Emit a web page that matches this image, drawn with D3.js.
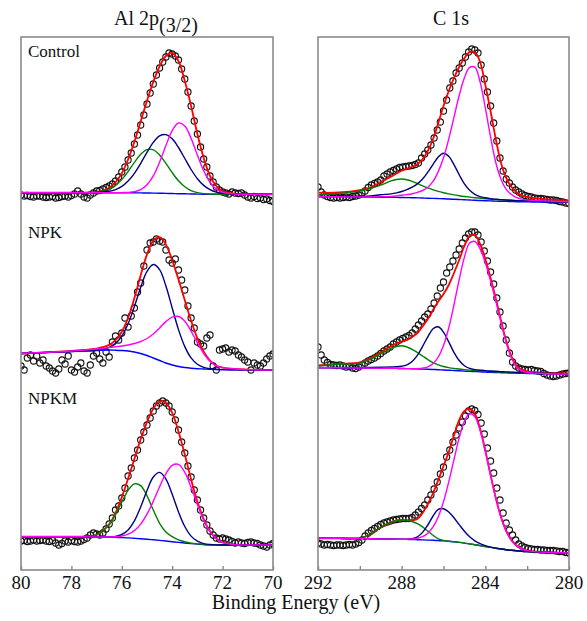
<!DOCTYPE html>
<html><head><meta charset="utf-8">
<script src="https://cdn.jsdelivr.net/npm/d3@7"></script>
<style>
body{margin:0;background:#fff;}
svg{display:block;}
</style>
</head><body>
<svg id="chart" width="587" height="621"></svg>
<script>
// ---------- DATA ----------
const sampleNames = ["Control", "NPK", "NPKM"];
const alTicks = [80, 78, 76, 74, 72, 70];
const alTickLabels = [80, 78, 76, 74, 72, 70];
const cTicks = [292, 290, 288, 286, 284, 282, 280];
const cTickLabels = [292, 288, 284, 280];

// energy grid of the fitted curves (eV)
const alEnergy = [80, 79, 78, 77.5, 77, 76.5, 76.25, 76, 75.75, 75.5, 75.25, 75, 74.75, 74.5, 74.25, 74, 73.75, 73.5, 73.25, 73, 72.75, 72.5, 72.25, 72, 71.5, 71, 70];
const cEnergy = [292, 291, 290, 289.5, 289, 288.5, 288.25, 288, 287.75, 287.5, 287.25, 287, 286.75, 286.5, 286.25, 286, 285.75, 285.5, 285.25, 285, 284.75, 284.5, 284.25, 284, 283.75, 283.5, 283.25, 283, 282.75, 282.5, 282.25, 282, 281.5, 281, 280];

// ----- Al 2p, Control -----
const alControlBase = [10.3,10.3,10.3,10.3,10.3,10.3,10.3,10.3,10.3,10.2,10.1,10.0,9.9,9.8,9.6,9.5,9.3,9.2,9.0,8.9,8.8,8.7,8.7,8.7,8.7,8.7,8.7];
const alControlGreen = [10.3,10.3,10.3,10.4,10.9,13.8,17.5,23.4,31.5,40.6,48.7,53.4,53.2,48.1,39.6,30.3,22.2,16.2,12.4,10.4,9.35,8.9,8.7,8.7,8.7,8.7,8.7];
const alControlNavy = [10.3,10.3,10.3,10.3,10.5,11.7,13.4,16.6,22.0,29.7,39.7,50.7,60.6,67.2,68.4,64.2,55.5,44.5,33.5,24.3,17.6,13.3,10.8,9.6,8.8,8.7,8.7];
const alControlMagenta = [10.3,10.3,10.3,10.3,10.3,10.3,10.3,10.4,10.6,11.3,13.4,18.2,27.1,40.9,57.4,72.4,80.0,77.0,64.6,47.9,32.2,20.6,13.9,10.6,8.9,8.7,8.7];
const alControlFit = [10.3,10.3,10.3,10.4,11.1,15.2,20.6,29.8,43.5,61.2,81.6,102.3,121.1,136.6,147,150,142,122,97,69,45,27,17,12,9.2,8.8,8.7];
const alControlData = [8,7,7.5,6.5,6,7,7,6,5.5,6,6.5,5,5.5,6.5,7,6,7.5,9,12,9,6,5,8,10,12,12.5,14,15.5,17,19,22,26,31,36,43,50,59,68,78,88,99,110,119,128,135,141,146,150,149,147,143,134,124,111,97,82,69,56,44,36,27,21,16,13,11,10,9,11,10,9.5,10,8,6,5,6.5,4.5,5,3.5,4,2.5,1.5];

// ----- Al 2p, NPK -----
const alNpkBase = [26.5,27.5,28.5,29,29.5,30,29.8,29.5,29,28,26.5,24.5,22,19.5,17,15,13.5,12.5,11.8,11.3,11,10.7,10.5,10.4,10.2,10.1,10];
const alNpkNavy = [26.5,27.5,28.5,29,29.8,32.6,36.4,43.8,56.2,73.4,92.7,108.6,115.5,110.3,94.0,72.0,50.4,33.4,22.1,15.8,12.7,11.2,10.65,10.4,10.2,10.1,10];
const alNpkMagenta = [26.5,27.7,29.0,30,31,32.5,33.3,34.0,35.0,36.5,38.5,41.5,46.0,52.1,58.4,62.8,63.5,58.8,48.9,37.1,26.5,18.8,14.1,12.4,11.0,10.4,10];
const alNpkFit = [26.5,27.7,29,30,31.3,35.1,39.9,48.3,62.2,81.9,104.7,125.6,139.5,142.9,135.4,119.8,100.4,79.7,59.2,41.6,28.2,19.3,14.25,12.4,11,10.4,10];
const alNpkData = [14,10,22,25,19,24,17,20,14,12,9,7,11,20,16,24,10,8,13,17,9,7,15,24,27,21,17,28,23,38,44,40,47,62,53,64,72,88,97,114,130,137,138,141,139,138,130,120,117,121,110,100,90,74,62,52,38,36,34,42,45,14,10,30,31,32,28,30,29,25,23,20,18,10,17,15,14,17,21,24,26];

// ----- Al 2p, NPKM -----
const alNpkmBase = [19.3,19.3,19.3,19.2,19,18.8,18.6,18.4,18.1,17.7,17.3,16.8,16.2,15.6,15,14.3,13.6,13,12.4,11.9,11.5,11.2,11.1,11,11,11,11];
const alNpkmGreen = [19.3,19.3,19.3,19.4,21.3,31.3,41.4,54.0,65.7,72.1,70.4,60.2,46.0,32.7,24.0,19.3,16.1,14.2,12.9,12.1,11.5,11.2,11.1,11,11,11,11];
const alNpkmNavy = [19.3,19.3,19.3,19.2,19,19.1,19.6,21.5,26.1,35.1,49.1,65.5,79.0,83.6,76.9,61.7,44.1,29.5,19.9,14.8,12.4,11.45,11.1,11,11,11,11];
const alNpkmMagenta = [19.3,19.3,19.3,19.2,19,19.0,19.2,20.0,21.8,25.4,31.9,41.8,54.7,69.3,82.4,90.7,91.6,83.7,68.7,51.4,35.9,24.4,17.4,13.7,11.3,11,11];
const alNpkmFit = [19.3,19.3,19.3,19.4,21.3,31.8,43,58.7,77.4,97.2,116.8,133.9,147.3,154.4,153.3,143.1,124.6,101.4,76.7,54.5,36.8,24.65,17.4,13.7,11.3,11,11];
const alNpkmData = [15,15.5,14.5,15,16,15,15.5,16,15,14.5,15.5,13,11,12.5,15,14,15.5,14.5,14,15,16.5,18,21,23,22,21,23,27,32,38,46,50,58,68,80,88,98,106,116,124,131,138,145,150,153,155,153,150,144,136,126,114,103,90,79,66,56,46,38,31,25,21,18,17,18,17,16,14.5,13,14,13,12.5,13.5,14,13,12.5,11,10,9,11,12.5];

// ----- C 1s, Control -----
const cControlBase = [6.3,6.2,6.0,5.9,5.8,5.65,5.6,5.5,5.4,5.3,5.15,5.0,4.8,4.6,4.4,4.2,3.95,3.7,3.45,3.2,2.95,2.7,2.5,2.3,2.1,1.9,1.75,1.6,1.45,1.3,1.2,1.1,1.0,0.9,0.7];
const cControlGreen = [8.3,9.5,12.1,14.5,18.0,22.05,23.5,24.0,23.3,21.7,19.55,17.2,15.1,13.2,11.6,10.3,9.15,8.1,7.25,6.5,5.85,5.3,4.8,4.3,3.9,3.5,3.25,2.9,2.65,2.4,2.25,2.1,1.85,1.6,1.25];
const cControlNavy = [6.6,6.7,6.8,7.1,8.3,9.15,10.1,11.5,13.4,15.8,19.15,24.0,30.8,38.6,45.9,49.7,46.75,38.4,28.25,19.1,12.65,8.7,6.4,5.2,4.3,3.8,3.35,3.0,2.7,2.4,2.2,2.0,1.75,1.5,1.1];
const cControlMagenta = [6.3,6.2,6.1,6.1,6.3,6.65,7.1,7.7,8.4,9.3,10.65,12.5,15.8,21.6,31.4,45.2,63.95,85.7,107.45,125.2,135.55,135.8,121.0,95.1,66.0,40.5,23.75,13.6,8.5,5.3,3.9,3.1,2.4,1.9,1.2];
const cControlFit = [10.3,10.5,12.9,15.5,21,26.5,29.5,32.2,34.3,36.2,39,43.7,52,64,80,97,112,125,136,145,151,151,141,118,92,64,40,25,16,10.5,7.5,6,4.5,3.5,2.2];
const cControlData = [16,11,8,6.5,5.5,5,5.5,5,5.5,6,5.5,6.5,7,8,10,12,15.5,18,19.5,21,23,27,29,31,32.5,34,35.5,36,36.5,37,37.5,38.5,40,45,49,53,58,65,73,81,92,103,115,122,130,135,140,146,151,154,153,150,138,124,111,97,80,62,45,32,24,20,16,13,11,9,7.5,6.5,6,5,4.5,4.5,4,3.5,3,3,2.5,1.5,1,0,-0.5];

// ----- C 1s, NPK -----
const cNpkBase = [12.3,12.2,12.0,11.9,11.8,11.7,11.6,11.5,11.4,11.3,11.1,10.9,10.7,10.5,10.3,10.0,9.8,9.5,9.2,8.9,8.6,8.4,8.2,7.9,7.7,7.5,7.3,7.1,7.0,6.8,6.7,6.5,6.4,6.2,6.0];
const cNpkGreen = [14.3,15.7,16.8,20.6,26.4,31.7,33.5,34.2,33.0,30.7,27.5,24.0,20.5,17.4,15.2,13.5,12.4,11.6,11.0,10.4,9.9,9.5,9.2,8.8,8.5,8.2,7.9,7.65,7.5,7.25,7.1,6.9,6.75,6.5,6.25];
const cNpkNavy = [12.5,12.5,12.5,12.6,12.8,13.1,13.2,13.8,15.2,18.5,24.6,33.7,43.2,51.2,53.2,47.9,38.1,27.7,19.5,14.3,11.6,10.4,9.9,9.4,9.0,8.7,8.4,8.1,7.9,7.6,7.45,7.2,7.0,6.7,6.4];
const cNpkMagenta = [12.3,12.2,12.0,11.9,11.8,11.7,11.6,11.5,11.4,11.3,11.4,11.9,13.2,16.5,23.0,34.5,52.0,75.0,100.4,122.9,136.9,138.5,131.2,117.2,98.9,78.9,57.3,37.1,22.0,12.8,9.2,7.5,6.7,6.2,6.0];
const cNpkFit = [14.5,16,17.6,21.6,27.7,34,36.5,38.5,40,43,47,53.5,61,70,78.5,86,95,107,120,134,144,145,136,121,102,81.5,59.5,39,23.5,14,10.5,8.6,7.6,7,6.7];
const cNpkData = [33,25,20,17.5,15.5,15,14.5,15,14,13,13.5,12,11.5,13,15,17,19,20.5,22,24,26.5,29,31,33,36,38,40,41.5,43,44.5,47,51,55,59,63,66,71,77,84,92,98,107,113,119,125,131,137,142,146,148,148,145,138,129,119,108,96,82,68,54,40,27,18,14,12,11,10.5,10,10.5,9.5,9,8.5,6.5,5,4,3.5,4,5,6,6.5,7];

// ----- C 1s, NPKM -----
const cNpkmBase = [17.7,17.6,17.4,17.3,17.1,16.9,16.8,16.7,16.6,16.5,16.3,16.1,15.9,15.7,15.4,15.1,14.7,14.2,13.6,12.9,12.1,11.3,10.4,9.5,8.6,7.8,7.0,6.3,5.7,5.2,4.8,4.5,4.0,3.6,3.0];
const cNpkmGreen = [17.7,17.6,17.9,21.3,28.6,33.9,35.6,36.0,35.6,34.5,32.3,29.1,24.9,20.7,17.2,15.6,14.7,14.2,13.6,12.9,12.1,11.3,10.4,9.5,8.6,7.8,7.0,6.3,5.7,5.2,4.8,4.5,4.0,3.6,3.0];
const cNpkmNavy = [17.7,17.6,17.4,17.3,17.1,16.9,16.8,16.7,16.8,17.4,19.2,23.6,31.0,40.0,46.6,47.3,44.0,38.3,31.4,24.8,19.2,15.2,12.3,10.3,8.9,7.9,7.0,6.3,5.7,5.2,4.8,4.5,4.0,3.6,3.0];
const cNpkmMagenta = [17.7,17.6,17.4,17.3,17.1,16.9,16.8,16.7,16.8,17.0,17.7,19.3,22.7,29.1,39.3,54.4,74.1,96.4,118.1,134.8,142.5,139.2,125.5,104.6,80.7,57.9,38.9,25.0,15.7,10.1,7.0,5.4,4.1,3.6,3.0];
const cNpkmFit = [17.7,17.6,17.9,21.3,28.6,33.9,35.6,36.0,35.8,35.9,37,43,52,63,76,90,104,120.5,135.9,145,147,142,127.4,105.4,81,58,38.9,25,15.7,10.1,7,5.4,4.1,3.6,3];
const cNpkmData = [13,12,11,11.5,11,10.5,11,11,10.5,11,11.5,11,12,13.5,16,20,23,25.5,27.5,29.5,31.5,33,34,35,36,36.5,37,37.5,37.5,37.5,38.5,41,44,47.5,51,56,61,67,74,82,89,99,106,114,121,128,134,140,145,147,145.5,141.5,133,122,108,95,83,68,56,43,33,26,21,16,12,10,8.5,7.5,7,6.5,6.5,6,6,5.5,5.5,5.5,5,4.5,4.5,3.5,3];

// measured energies of the data points (regular instrument steps)
const alStep = 0.125, cStep = 0.15;

// ---------- LAYOUT ----------
const FONT = "'Liberation Serif', 'Times New Roman', Times, serif";
const frameTop = 37, frameBottom = 570;
const rowBottoms = [203, 380, 556];
const rowSpan = 160;
const colors = {fit:"#ff0000", base:"#0000ff", green:"#008000", navy:"#000080", magenta:"#ff00ff"};

const columns = [
  {key:"al", x0:21, x1:273, domain:[80,70], ticks:alTicks, labels:alTickLabels, energy:alEnergy, start:80, step:alStep,
   rows:[
     {base:alControlBase, green:alControlGreen, navy:alControlNavy, magenta:alControlMagenta, fit:alControlFit, data:alControlData},
     {base:alNpkBase, green:null, navy:alNpkNavy, magenta:alNpkMagenta, fit:alNpkFit, data:alNpkData},
     {base:alNpkmBase, green:alNpkmGreen, navy:alNpkmNavy, magenta:alNpkmMagenta, fit:alNpkmFit, data:alNpkmData}
   ]},
  {key:"c", x0:318, x1:569, domain:[292,280], ticks:cTicks, labels:cTickLabels, energy:cEnergy, start:292, step:cStep,
   rows:[
     {base:cControlBase, green:cControlGreen, navy:cControlNavy, magenta:cControlMagenta, fit:cControlFit, data:cControlData},
     {base:cNpkBase, green:cNpkGreen, navy:cNpkNavy, magenta:cNpkMagenta, fit:cNpkFit, data:cNpkData},
     {base:cNpkmBase, green:cNpkmGreen, navy:cNpkmNavy, magenta:cNpkmMagenta, fit:cNpkmFit, data:cNpkmData}
   ]}
];

const svg = d3.select("#chart");
const defs = svg.append("defs");

columns.forEach(col => {
  const x = d3.scaleLinear().domain(col.domain).range([col.x0, col.x1]);
  defs.append("clipPath").attr("id", "clip-" + col.key)
    .append("rect").attr("x", col.x0).attr("y", frameTop)
    .attr("width", col.x1 - col.x0).attr("height", frameBottom - frameTop);

  const g = svg.append("g").attr("clip-path", "url(#clip-" + col.key + ")");

  col.rows.forEach((row, ri) => {
    const y = d3.scaleLinear().domain([0, rowSpan]).range([rowBottoms[ri], rowBottoms[ri] - rowSpan]);
    const line = d3.line()
      .x((d, i) => x(col.energy[i]))
      .y(d => y(d))
      .curve(d3.curveCatmullRom.alpha(0.5));

    g.append("g").selectAll("circle").data(row.data).join("circle")
      .attr("cx", (d, i) => x(col.start - i * col.step))
      .attr("cy", d => y(d))
      .attr("r", 3.1)
      .attr("fill", "none")
      .attr("stroke", "#111")
      .attr("stroke-width", 1.1);

    const draw = (arr, color, w) => {
      if (!arr) return;
      g.append("path").datum(arr).attr("d", line)
        .attr("fill", "none").attr("stroke", color).attr("stroke-width", w)
        .attr("stroke-linejoin", "round");
    };
    draw(row.fit, colors.fit, 1.8);
    draw(row.base, colors.base, 1.4);
    draw(row.green, colors.green, 1.4);
    draw(row.navy, colors.navy, 1.4);
    draw(row.magenta, colors.magenta, 1.4);
  });

  // frame
  svg.append("rect").attr("x", col.x0).attr("y", frameTop)
    .attr("width", col.x1 - col.x0).attr("height", frameBottom - frameTop)
    .attr("fill", "none").attr("stroke", "#8a8a8a").attr("stroke-width", 1.6);

  // bottom axis: inward ticks, no labels (labels drawn separately)
  const axis = d3.axisBottom(x).tickValues(col.ticks).tickSizeInner(-4).tickSizeOuter(0).tickFormat("");
  const ag = svg.append("g").attr("transform", "translate(0," + frameBottom + ")").call(axis);
  ag.select(".domain").remove();
  ag.selectAll(".tick line").attr("stroke", "#8a8a8a").attr("stroke-width", 1.4);

  svg.append("g").selectAll("text").data(col.labels).join("text")
    .attr("x", d => x(d)).attr("y", 589)
    .attr("text-anchor", "middle")
    .style("font-family", FONT).style("font-size", "19px").style("fill", "#111")
    .text(d => d);
});

// sample labels
const labelY = [56.5, 238, 404];
sampleNames.forEach((name, i) => {
  svg.append("text").attr("x", 28).attr("y", labelY[i])
    .style("font-family", FONT).style("font-size", "17px").style("fill", "#111").text(name);
});

// column titles
const t1 = svg.append("text").attr("x", 156).attr("y", 25).attr("text-anchor", "middle")
  .style("font-family", FONT).style("font-size", "20px").style("fill", "#111");
t1.append("tspan").text("Al 2p");
t1.append("tspan").attr("dy", 7).text("(3/2)");
svg.append("text").attr("x", 451).attr("y", 25).attr("text-anchor", "middle")
  .style("font-family", FONT).style("font-size", "20px").style("fill", "#111").text("C 1s");

// x axis title
svg.append("text").attr("x", 296).attr("y", 609).attr("text-anchor", "middle")
  .style("font-family", FONT).style("font-size", "20px").style("fill", "#111").text("Binding Energy (eV)");
</script>
</body></html>
